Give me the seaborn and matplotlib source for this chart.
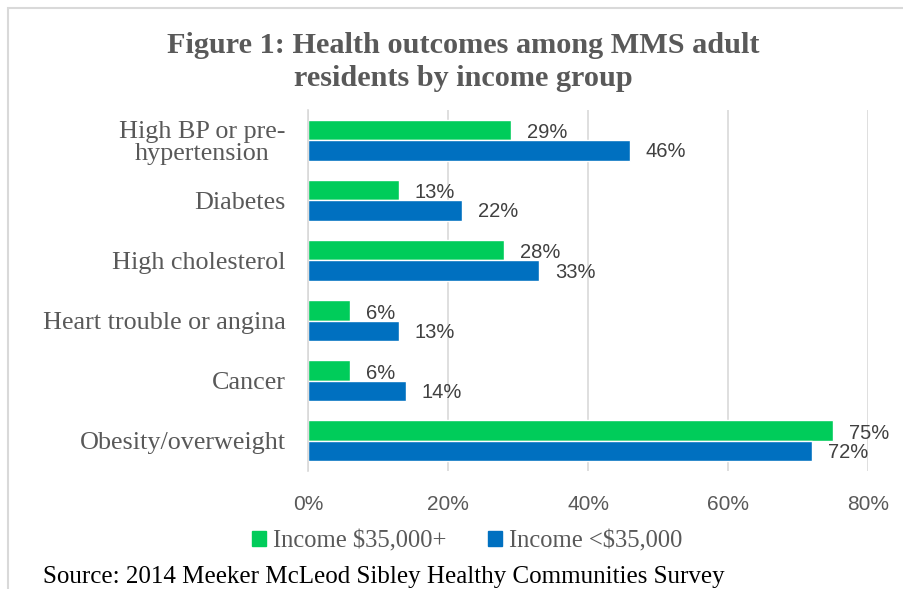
import matplotlib
matplotlib.use("Agg")
import matplotlib.pyplot as plt
import seaborn as sns
import pandas as pd
from matplotlib.patches import Rectangle

categories = ["High BP or pre-\nhypertension", "Diabetes", "High cholesterol",
              "Heart trouble or angina", "Cancer", "Obesity/overweight"]
series_names = ["Income $35,000+", "Income <$35,000"]
high_income = [29, 13, 28, 6, 6, 75]
low_income = [46, 22, 33, 13, 14, 72]
x_ticks = [0, 20, 40, 60, 80]
x_tick_labels = ["0%", "20%", "40%", "60%", "80%"]
colors = ["#00CC5A", "#0070C0"]

df = pd.DataFrame({
    "category": categories * 2,
    "series": [series_names[0]] * len(categories) + [series_names[1]] * len(categories),
    "value": high_income + low_income,
})

sns.set_theme(style="white")
serif = "Liberation Serif"
sans = "Liberation Sans"

fig = plt.figure(figsize=(9.04, 5.89), dpi=100)
ax = fig.add_axes([308/904, 1 - 471/589, (868-308)/904, (471-110)/589])

sns.barplot(data=df, y="category", x="value", hue="series", orient="h",
            palette=colors, ax=ax, width=0.68, saturation=1, legend=False,
            order=categories, hue_order=series_names)

ax.set_xlim(0, 80)
ax.set_xticks(x_ticks)
ax.set_xticklabels(x_tick_labels, fontfamily=sans, fontsize=15, color="#595959")
ax.tick_params(axis="x", length=0, pad=17)
ax.tick_params(axis="y", length=0, pad=16)
for lbl in ax.get_yticklabels():
    lbl.set_fontfamily(serif)
    lbl.set_fontsize(18.8)
    lbl.set_color("#595959")
    lbl.set_multialignment("center")
    lbl.set_linespacing(1.0)
ax.set_xlabel("")
ax.set_ylabel("")
ax.xaxis.grid(True, color="#D9D9D9", linewidth=1.2)
ax.set_axisbelow(True)
for s in ["top", "right", "bottom"]:
    ax.spines[s].set_visible(False)
ax.spines["left"].set_color("#D9D9D9")
ax.spines["left"].set_linewidth(1.2)

for i, cont in enumerate(ax.containers):
    anns = ax.bar_label(cont, labels=[f"{v:.0f}%" for v in cont.datavalues],
                        padding=11.5, fontfamily=sans, fontsize=14.5, color="#404040")
    for a in anns:
        a.xyann = (11.5, -2.0 if i == 0 else -1.0)

fig.text(463/904, 1 - 62/589, "Figure 1: Health outcomes among MMS adult\nresidents by income group",
         ha="center", va="center", fontfamily=serif, fontweight="bold",
         fontsize=21.8, color="#595959", linespacing=1.25)

# legend
handles = [Rectangle((0, 0), 1, 1, color=c) for c in colors]
leg = fig.legend(handles, series_names, loc="center", bbox_to_anchor=(467/904, 1 - 541/589),
                 ncol=2, frameon=False, prop={"family": serif, "size": 17.7},
                 handlelength=0.57, handleheight=0.57, handletextpad=0.28, columnspacing=1.7)
for t in leg.get_texts():
    t.set_color("#595959")

fig.text(43/904, 1 - 577/589, "Source: 2014 Meeker McLeod Sibley Healthy Communities Survey",
         ha="left", va="center", fontfamily=serif, fontsize=18, color="black")

# chart border
fig.add_artist(Rectangle((8/904, -0.1), 1.2, 1 - 8/589 + 0.1, transform=fig.transFigure,
                         fill=False, edgecolor="#D9D9D9", linewidth=1.5))

fig.savefig("out.png", dpi=100)
